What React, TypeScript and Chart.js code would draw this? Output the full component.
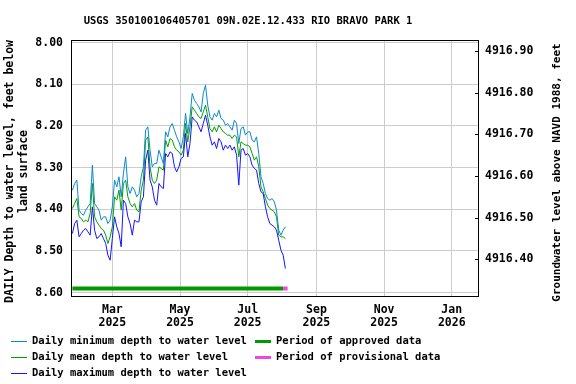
import React, { useEffect, useRef } from 'react';
import { Chart, registerables } from 'chart.js';

Chart.register(...registerables);

// Day numbers counted from 2025-01-01 (day 0)
const days = [
  23, 25, 27, 29, 31, 33, 35, 37, 39, 41, 43, 45, 47, 49, 51, 53, 55, 57, 59, 61,
  63, 65, 67, 69, 71, 73, 75, 77, 79, 81, 83, 85, 87, 89, 91, 93, 95, 97, 99, 101,
  103, 105, 107, 109, 111, 113, 115, 117, 119, 121, 123, 125, 127, 129, 131, 133, 135, 137, 139, 141,
  143, 145, 147, 149, 151, 153, 155, 157, 159, 161, 163, 165, 167, 169, 171, 173, 175, 177, 179, 181,
  183, 185, 187, 189, 191, 193, 195, 197, 199, 201, 203, 205, 207, 209, 211, 213, 215,
];

const minDepth = [
  8.354, 8.338, 8.330, 8.402, 8.410, 8.414, 8.402, 8.394, 8.386, 8.294, 8.386, 8.394, 8.402, 8.426, 8.418, 8.418, 8.434, 8.426, 8.394, 8.330,
  8.346, 8.322, 8.370, 8.314, 8.274, 8.346, 8.362, 8.346, 8.354, 8.370, 8.362, 8.322, 8.298, 8.210, 8.202, 8.258, 8.298, 8.290, 8.290, 8.258,
  8.274, 8.290, 8.214, 8.226, 8.202, 8.194, 8.210, 8.226, 8.238, 8.254, 8.226, 8.170, 8.218, 8.178, 8.122, 8.138, 8.146, 8.154, 8.166, 8.122,
  8.102, 8.150, 8.178, 8.186, 8.170, 8.178, 8.162, 8.182, 8.186, 8.198, 8.194, 8.202, 8.210, 8.186, 8.194, 8.242, 8.206, 8.202, 8.222, 8.214,
  8.214, 8.234, 8.238, 8.226, 8.266, 8.322, 8.338, 8.362, 8.374, 8.378, 8.374, 8.382, 8.402, 8.450, 8.462, 8.450, 8.442,
];

const meanDepth = [
  8.398, 8.386, 8.374, 8.418, 8.422, 8.430, 8.426, 8.430, 8.410, 8.338, 8.418, 8.430, 8.438, 8.446, 8.450, 8.462, 8.482, 8.466, 8.442, 8.370,
  8.378, 8.354, 8.402, 8.338, 8.330, 8.370, 8.386, 8.394, 8.386, 8.402, 8.406, 8.354, 8.330, 8.234, 8.226, 8.298, 8.330, 8.338, 8.330, 8.298,
  8.302, 8.306, 8.234, 8.250, 8.230, 8.234, 8.250, 8.258, 8.262, 8.270, 8.258, 8.194, 8.238, 8.202, 8.154, 8.162, 8.170, 8.178, 8.182, 8.166,
  8.150, 8.178, 8.206, 8.214, 8.202, 8.214, 8.198, 8.206, 8.214, 8.218, 8.222, 8.222, 8.230, 8.222, 8.226, 8.274, 8.238, 8.242, 8.246, 8.246,
  8.250, 8.266, 8.282, 8.274, 8.298, 8.346, 8.358, 8.374, 8.390, 8.398, 8.402, 8.406, 8.418, 8.462, 8.466, 8.466, 8.470,
];

const maxDepth = [
  8.458, 8.434, 8.426, 8.466, 8.458, 8.450, 8.446, 8.454, 8.462, 8.394, 8.450, 8.470, 8.466, 8.458, 8.470, 8.482, 8.510, 8.522, 8.470, 8.418,
  8.442, 8.458, 8.490, 8.378, 8.386, 8.418, 8.434, 8.462, 8.426, 8.430, 8.430, 8.382, 8.370, 8.282, 8.258, 8.330, 8.346, 8.378, 8.390, 8.338,
  8.346, 8.350, 8.266, 8.274, 8.262, 8.266, 8.298, 8.310, 8.298, 8.278, 8.274, 8.218, 8.274, 8.242, 8.178, 8.186, 8.190, 8.202, 8.214, 8.194,
  8.174, 8.198, 8.226, 8.246, 8.238, 8.254, 8.230, 8.238, 8.258, 8.246, 8.254, 8.246, 8.258, 8.250, 8.270, 8.342, 8.258, 8.254, 8.270, 8.266,
  8.274, 8.294, 8.302, 8.306, 8.338, 8.358, 8.362, 8.394, 8.418, 8.434, 8.438, 8.442, 8.450, 8.474, 8.498, 8.510, 8.542,
];

const xTickDays = [59, 120, 181, 243, 304, 365];
const xTickLabels = [
  ['Mar', '2025'],
  ['May', '2025'],
  ['Jul', '2025'],
  ['Sep', '2025'],
  ['Nov', '2025'],
  ['Jan', '2026'],
];
const leftTicks = [8.0, 8.1, 8.2, 8.3, 8.4, 8.5, 8.6];
const rightTicks = [4916.4, 4916.5, 4916.6, 4916.7, 4916.8, 4916.9];

const approvedPeriod = [23, 213];
const provisionalPeriod = [213, 217];
const periodLevel = 8.59;

const datumOffset = 4924.92; // elevation = datumOffset - depth
const depthMin = 7.996;
const depthMax = 8.608;
const dayMin = 22.63;
const dayMax = 388.66;

const titleText = 'USGS 350100106405701 09N.02E.12.433 RIO BRAVO PARK 1';
const leftTitle = ['DAILY Depth to water level, feet below', 'land surface'];
const rightTitle = 'Groundwater level above NAVD 1988, feet';

const C_MIN = '#0a88d2';
const C_MEAN = '#00a000';
const C_MAX = '#1414ff';
const C_APPROVED = '#009900';
const C_PROV = '#f046e0';

const FONT = '"DejaVu Sans Mono", monospace';

const legendItems = [
  { label: 'Daily minimum depth to water level', color: C_MIN, width: 1, col: 0, row: 0 },
  { label: 'Daily mean depth to water level', color: C_MEAN, width: 1, col: 0, row: 1 },
  { label: 'Daily maximum depth to water level', color: C_MAX, width: 1, col: 0, row: 2 },
  { label: 'Period of approved data', color: C_APPROVED, width: 3, col: 1, row: 0 },
  { label: 'Period of provisional data', color: C_PROV, width: 3, col: 1, row: 1 },
];

const decorPlugin = {
  id: 'decor',
  beforeDraw(chart: any) {
    const ctx = chart.ctx;
    ctx.save();
    ctx.fillStyle = '#ffffff';
    ctx.fillRect(0, 0, chart.width, chart.height);
    ctx.restore();
  },
  afterDraw(chart: any) {
    const ctx = chart.ctx;
    const a = chart.chartArea;
    ctx.save();
    // plot frame
    ctx.strokeStyle = '#000000';
    ctx.lineWidth = 1;
    ctx.strokeRect(a.left - 0.5, a.top - 0.5, a.right - a.left + 1, a.bottom - a.top + 1);

    // right axis inward tick marks
    const y2 = chart.scales.y2;
    ctx.beginPath();
    rightTicks.forEach((v) => {
      const py = Math.round(y2.getPixelForValue(v)) + 0.5;
      ctx.moveTo(a.right - 3, py);
      ctx.lineTo(a.right, py);
    });
    ctx.stroke();

    ctx.fillStyle = '#000000';
    // title
    ctx.font = 'bold 10.5px ' + FONT;
    ctx.textAlign = 'center';
    ctx.textBaseline = 'middle';
    ctx.fillText(titleText, 248, 21);

    // left axis title
    ctx.font = 'bold 11.5px ' + FONT;
    ctx.save();
    ctx.translate(10, 171.5);
    ctx.rotate(-Math.PI / 2);
    ctx.fillText(leftTitle[0], 0, 0);
    ctx.restore();
    ctx.save();
    ctx.translate(24, 171.5);
    ctx.rotate(-Math.PI / 2);
    ctx.fillText(leftTitle[1], 0, 0);
    ctx.restore();

    // right axis title
    ctx.font = 'bold 11px ' + FONT;
    ctx.save();
    ctx.translate(557, 172.5);
    ctx.rotate(-Math.PI / 2);
    ctx.fillText(rightTitle, 0, 0);
    ctx.restore();

    // legend
    ctx.font = 'bold 10.5px ' + FONT;
    ctx.textAlign = 'left';
    const rowY = [341, 357, 373];
    const colX = [11, 255];
    legendItems.forEach((it) => {
      const y = rowY[it.row];
      const x = colX[it.col];
      ctx.strokeStyle = it.color;
      ctx.lineWidth = it.width;
      ctx.beginPath();
      const yy = it.width % 2 === 1 ? Math.round(y) + 0.5 : Math.round(y);
      ctx.moveTo(x, yy);
      ctx.lineTo(x + 16, yy);
      ctx.stroke();
      ctx.fillStyle = '#000000';
      ctx.fillText(it.label, x + 21, y);
    });
    ctx.restore();
  },
};

function toPoints(xs: number[], ys: number[]) {
  return xs.map((x, i) => ({ x, y: ys[i] }));
}

export default function App() {
  const canvasRef = useRef<HTMLCanvasElement | null>(null);

  useEffect(() => {
    document.body.style.margin = '0';
    const canvas = canvasRef.current;
    if (!canvas) return;
    const tickFont = { family: FONT, size: 11.5, weight: 'bold' as const, lineHeight: 1.1 };

    const chart = new Chart(canvas, {
      type: 'line',
      data: {
        datasets: [
          {
            label: 'approved',
            data: toPoints(approvedPeriod, [periodLevel, periodLevel]),
            borderColor: C_APPROVED,
            borderWidth: 4,
            pointRadius: 0,
            yAxisID: 'y',
          },
          {
            label: 'provisional',
            data: toPoints(provisionalPeriod, [periodLevel, periodLevel]),
            borderColor: C_PROV,
            borderWidth: 4,
            pointRadius: 0,
            yAxisID: 'y',
          },
          {
            label: 'max',
            data: toPoints(days, maxDepth),
            borderColor: C_MAX,
            borderWidth: 1,
            pointRadius: 0,
            tension: 0,
            yAxisID: 'y',
          },
          {
            label: 'min',
            data: toPoints(days, minDepth),
            borderColor: C_MIN,
            borderWidth: 1,
            pointRadius: 0,
            tension: 0,
            yAxisID: 'y',
          },
          {
            label: 'mean',
            data: toPoints(days, meanDepth),
            borderColor: C_MEAN,
            borderWidth: 1,
            pointRadius: 0,
            tension: 0,
            yAxisID: 'y',
          },
        ],
      },
      options: {
        responsive: false,
        animation: false,
        devicePixelRatio: 1,
        layout: { padding: { top: 41, left: 0, right: 0, bottom: 0 } },
        plugins: {
          legend: { display: false },
          title: { display: false },
          tooltip: { enabled: false },
        },
        scales: {
          x: {
            type: 'linear',
            min: dayMin,
            max: dayMax,
            position: 'bottom',
            afterFit: (s: any) => {
              s.height = 88;
            },
            afterBuildTicks: (s: any) => {
              s.ticks = xTickDays.map((v) => ({ value: v }));
            },
            ticks: {
              autoSkip: false,
              maxRotation: 0,
              padding: 8,
              color: '#000000',
              font: tickFont,
              callback: (v: any) => {
                const i = xTickDays.indexOf(Number(v));
                return i >= 0 ? xTickLabels[i] : '';
              },
            },
            grid: { color: '#cccccc', drawTicks: false },
            border: { display: false },
          },
          y: {
            type: 'linear',
            position: 'left',
            reverse: true,
            min: depthMin,
            max: depthMax,
            afterFit: (s: any) => {
              s.width = 72;
            },
            afterBuildTicks: (s: any) => {
              s.ticks = leftTicks.map((v) => ({ value: v }));
            },
            ticks: {
              padding: 9,
              color: '#000000',
              font: tickFont,
              callback: (v: any) => Number(v).toFixed(2),
            },
            grid: { color: '#cccccc', drawTicks: false },
            border: { display: false },
          },
          y2: {
            type: 'linear',
            position: 'right',
            min: datumOffset - depthMax,
            max: datumOffset - depthMin,
            afterFit: (s: any) => {
              s.width = 98;
            },
            afterBuildTicks: (s: any) => {
              s.ticks = rightTicks.map((v) => ({ value: v }));
            },
            ticks: {
              padding: 7,
              color: '#000000',
              font: tickFont,
              callback: (v: any) => Number(v).toFixed(2),
            },
            grid: { drawOnChartArea: false, drawTicks: false },
            border: { display: false },
          },
        },
      },
      plugins: [decorPlugin],
    });

    return () => {
      chart.destroy();
    };
  }, []);

  return (
    <div style={{ position: 'fixed', left: 0, top: 0, width: 576, height: 384 }}>
      <canvas ref={canvasRef} width={576} height={384} style={{ width: 576, height: 384, display: 'block' }} />
    </div>
  );
}
